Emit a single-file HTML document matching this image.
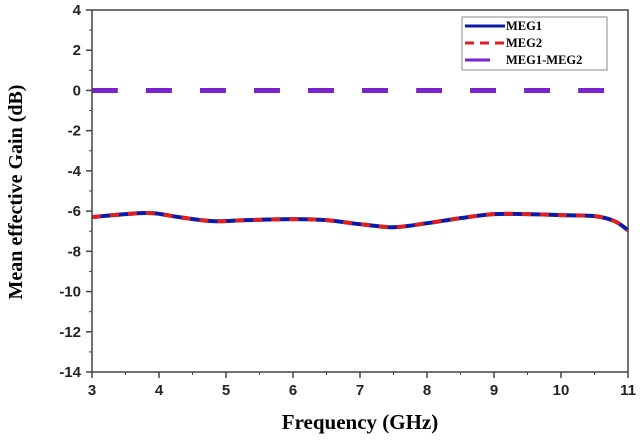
<!DOCTYPE html>
<html><head><meta charset="utf-8"><style>
body{margin:0;background:#fff}
svg text{font-family:"Liberation Sans",sans-serif;font-weight:bold}
</style></head><body>
<svg width="642" height="437" viewBox="0 0 642 437">
<g id="ticks"></g>
<g id="series"></g>
<rect x="92" y="10" width="536" height="362" fill="none" stroke="#444" stroke-width="1.5"/>
<text x="22" y="192" transform="rotate(-90 22 192)" text-anchor="middle" font-size="20" style="font-family:'Liberation Serif',serif">Mean effective Gain (dB)</text>
<text x="360" y="429" text-anchor="middle" font-size="21" style="font-family:'Liberation Serif',serif">Frequency (GHz)</text>
<g>
<rect x="462" y="17" width="145" height="53" fill="#fff" stroke="#888" stroke-width="1"/>
<line x1="465" y1="26" x2="505" y2="26" stroke="#0a1aa8" stroke-width="3"/>
<text x="506" y="30" font-size="12.5" style="font-family:'Liberation Serif',serif">MEG1</text>
<line x1="465" y1="43" x2="505" y2="43" stroke="#e02020" stroke-width="3" stroke-dasharray="9,6"/>
<text x="506" y="47" font-size="12.5" style="font-family:'Liberation Serif',serif">MEG2</text>
<line x1="465" y1="60" x2="490" y2="60" stroke="#7a22cc" stroke-width="3"/>
<text x="506" y="64" font-size="12.5" style="font-family:'Liberation Serif',serif">MEG1-MEG2</text>
</g>
</svg>
<script>
const freqs=[3,3.5,3.9,4.3,4.8,5.3,6,6.5,7,7.5,8,8.5,9,9.5,10,10.5,10.8,11];
const meg1=[-6.3,-6.15,-6.1,-6.3,-6.5,-6.45,-6.4,-6.45,-6.65,-6.8,-6.6,-6.35,-6.15,-6.15,-6.2,-6.25,-6.5,-6.95];
const meg2=[-6.3,-6.15,-6.1,-6.3,-6.5,-6.45,-6.4,-6.45,-6.65,-6.8,-6.6,-6.35,-6.15,-6.15,-6.2,-6.25,-6.5,-6.95];
const diff=[0,0];
const diffFreqs=[3,11];
const xTicks=[3,4,5,6,7,8,9,10,11];
const yTicks=[4,2,0,-2,-4,-6,-8,-10,-12,-14];
const NS='http://www.w3.org/2000/svg';
const X=v=>92+(v-3)*(536/8);
const Y=v=>10+(4-v)*(362/18);
function mk(tag,at,parent){const e=document.createElementNS(NS,tag);for(const k in at)e.setAttribute(k,at[k]);parent.appendChild(e);return e;}
const tg=document.getElementById('ticks');
xTicks.forEach(t=>{
 const l=mk('line',{x1:X(t),x2:X(t),y1:372,y2:378,stroke:'#444','stroke-width':1.5},tg);
 
 
 if(t<11){const m=mk('line',{x1:X(t+0.5),x2:X(t+0.5),y1:372,y2:375,stroke:'#444','stroke-width':1},tg);
 
 }
 const tx=mk('text',{x:X(t),y:395,'text-anchor':'middle','font-size':15,fill:'#222'},tg);tx.textContent=t;
 
 
});
yTicks.forEach(t=>{
 const l=mk('line',{x1:86,x2:92,y1:Y(t),y2:Y(t),stroke:'#444','stroke-width':1.5},tg);
 
 
 if(t>-14){const m=mk('line',{x1:89,x2:92,y1:Y(t-1),y2:Y(t-1),stroke:'#444','stroke-width':1},tg);
 
 }
 const tx=mk('text',{x:81,y:Y(t)+5,'text-anchor':'end','font-size':15,fill:'#222'},tg);tx.textContent=t;
 
 
});
function smooth(xs,ys){
 const p=xs.map((x,i)=>[X(x),Y(ys[i])]);let d='M'+p[0][0]+','+p[0][1];
 for(let i=0;i<p.length-1;i++){const p0=p[i-1]||p[i],p1=p[i],p2=p[i+1],p3=p[i+2]||p2;
  d+=` C${p1[0]+(p2[0]-p0[0])/6},${p1[1]+(p2[1]-p0[1])/6} ${p2[0]-(p3[0]-p1[0])/6},${p2[1]-(p3[1]-p1[1])/6} ${p2[0]},${p2[1]}`;}
 return d;}
const sg=document.getElementById('series');
const s1=mk('path',{d:smooth(freqs,meg1),fill:'none',stroke:'#0a1aa8','stroke-width':4},sg);


const s2=mk('path',{d:smooth(freqs,meg2),fill:'none',stroke:'#e02020','stroke-width':4,'stroke-dasharray':'9,9'},sg);


const s3=mk('path',{d:smooth(diffFreqs,diff),fill:'none',stroke:'#7a22cc','stroke-width':5,'stroke-dasharray':'26,28'},sg);


</script>
</body></html>
